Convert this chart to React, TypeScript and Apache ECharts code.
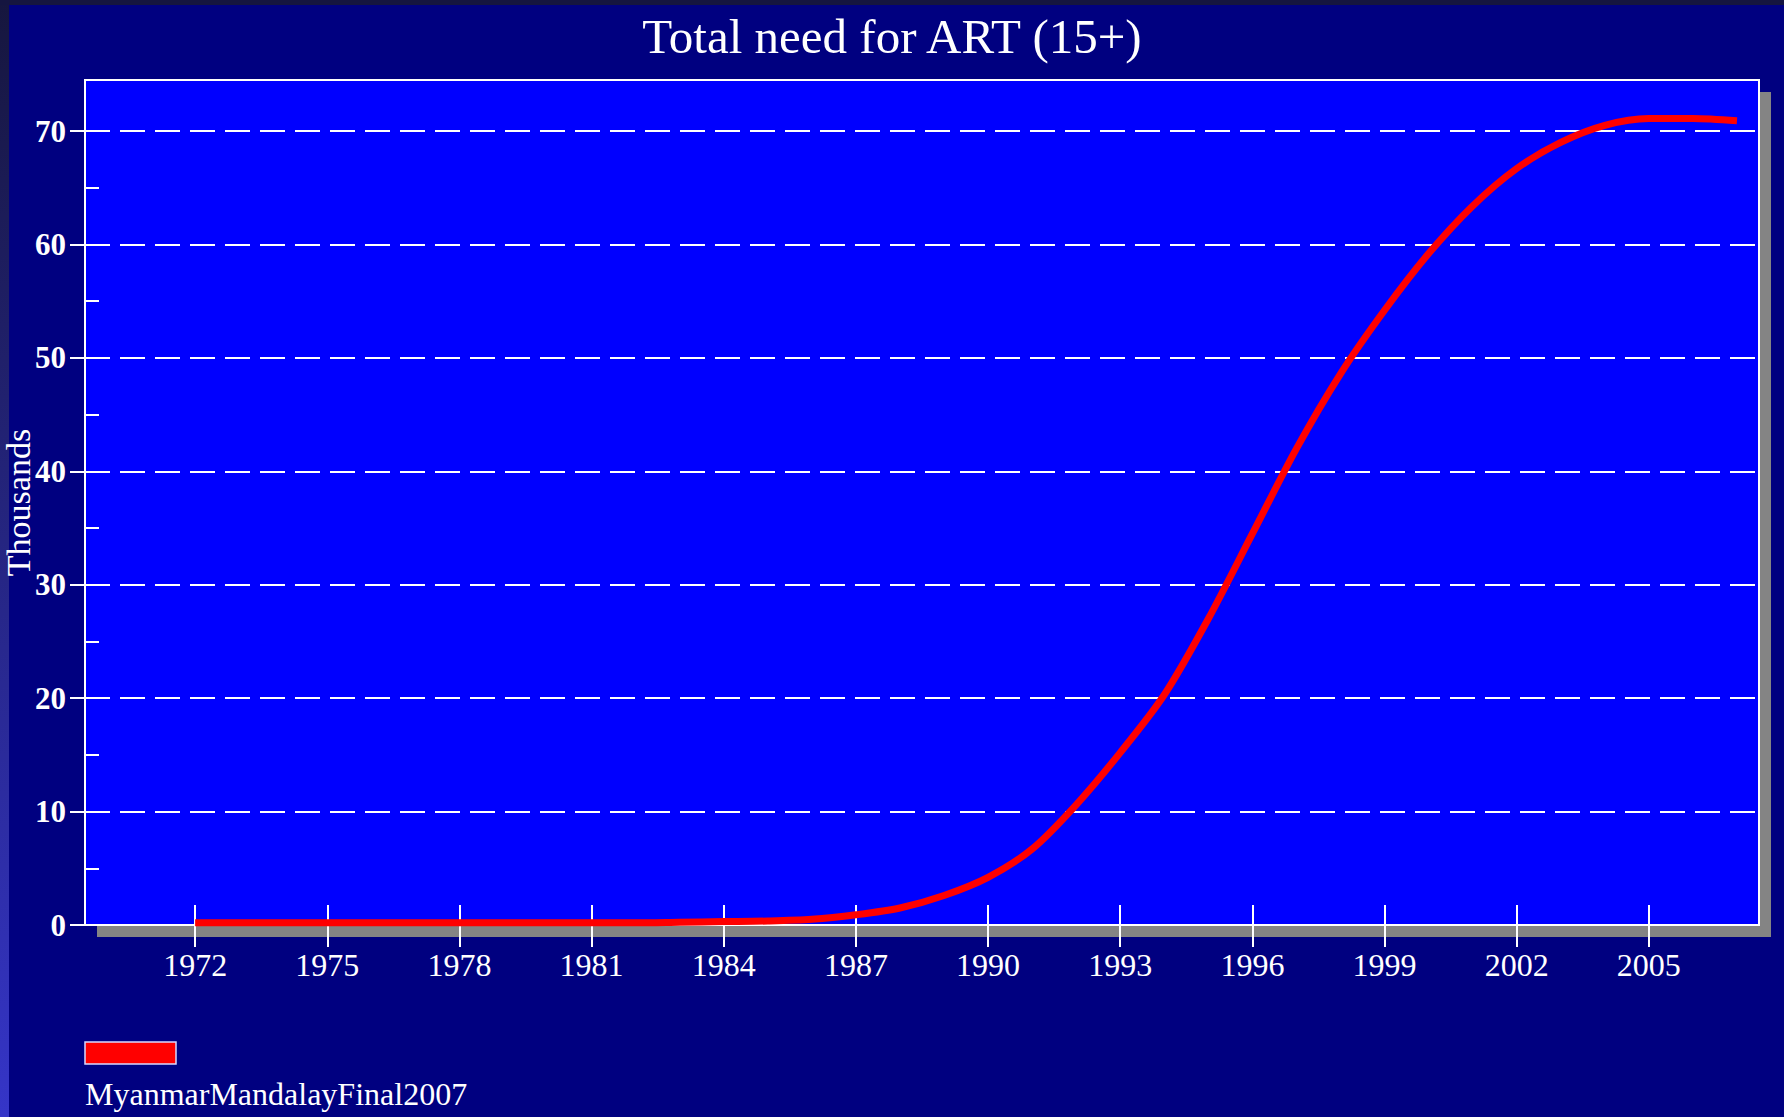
import React, { useEffect, useRef } from "react";
import * as echarts from "echarts";

const years = [1972, 1973, 1974, 1975, 1976, 1977, 1978, 1979, 1980, 1981, 1982, 1983, 1984, 1985, 1986, 1987, 1988, 1989, 1990, 1991, 1992, 1993, 1994, 1995, 1996, 1997, 1998, 1999, 2000, 2001, 2002, 2003, 2004, 2005, 2006, 2007];
const artNeed = [0.2, 0.2, 0.2, 0.2, 0.2, 0.2, 0.2, 0.2, 0.2, 0.2, 0.2, 0.25, 0.3, 0.35, 0.5, 0.9, 1.5, 2.6, 4.2, 6.7, 10.6, 15.2, 20.3, 27.0, 34.5, 42.0, 48.6, 54.2, 59.2, 63.4, 66.7, 69.0, 70.5, 71.1, 71.1, 70.9];
const xTickYears = [1972, 1975, 1978, 1981, 1984, 1987, 1990, 1993, 1996, 1999, 2002, 2005];
const yMajorTicks = [0, 10, 20, 30, 40, 50, 60, 70];
const yMinorTicks = [5, 15, 25, 35, 45, 55, 65];
const seriesName = "MyanmarMandalayFinal2007";
const titleText = "Total need for ART (15+)";
const yAxisName = "Thousands";

const W = 1784;
const H = 1117;
const G_LEFT = 85;
const G_TOP = 80;
const G_RIGHT = 25;
const G_BOTTOM = 192;
const FONT = "'Liberation Serif', 'Times New Roman', serif";

export default function App() {
  const ref = useRef<HTMLDivElement>(null);
  useEffect(() => {
    if (!ref.current) return;
    const chart = echarts.init(ref.current, null, { renderer: "svg" });
    const gw = W - G_LEFT - G_RIGHT;
    const gh = H - G_TOP - G_BOTTOM;
    const option: any = {
      animation: false,
      backgroundColor: "#000080",
      title: {
        text: titleText,
        left: "center",
        top: 7,
        textStyle: { color: "#ffffff", fontFamily: FONT, fontSize: 49, fontWeight: "normal" },
      },
      grid: {
        left: G_LEFT,
        top: G_TOP,
        right: G_RIGHT,
        bottom: G_BOTTOM,
        show: true,
        backgroundColor: "#0000ff",
        borderColor: "#ffffff",
        borderWidth: 2,
        containLabel: false,
        outerBoundsMode: "none",
      },
      graphic: [
        {
          type: "rect",
          z: -100,
          shape: { x: G_LEFT + 12, y: G_TOP + 12, width: gw, height: gh },
          style: { fill: "#848484" },
        },
        {
          type: "rect",
          z: -50,
          shape: { x: 0, y: 0, width: 9, height: H },
          style: {
            fill: new echarts.graphic.LinearGradient(0, 0, 0, 1, [
              { offset: 0, color: "#16163e" },
              { offset: 1, color: "#3535c8" },
            ]),
          },
        },
        {
          type: "rect",
          z: -50,
          shape: { x: 0, y: 0, width: W, height: 5 },
          style: { fill: "#151540" },
        },
        {
          type: "rect",
          shape: { x: 85, y: 1042, width: 91, height: 22 },
          style: { fill: "#ff0000", stroke: "#d8d8ff", lineWidth: 1.5 },
        },
        {
          type: "text",
          x: 85,
          y: 1094,
          style: {
            text: seriesName,
            fill: "#ffffff",
            font: `32px ${FONT}`,
            verticalAlign: "middle",
          },
        },
      ],
      xAxis: [
        {
          type: "value",
          min: 1969.5,
          max: 2007.5,
          position: "bottom",
          offset: -20,
          axisLine: { show: false },
          axisTick: {
            show: true,
            inside: false,
            length: 42,
            customValues: xTickYears,
            lineStyle: { color: "#ffffff", width: 2 },
          },
          axisLabel: {
            show: true,
            customValues: xTickYears,
            color: "#ffffff",
            fontFamily: FONT,
            fontSize: 32,
            margin: 44,
            formatter: (v: number) => String(v),
          },
          splitLine: { show: false },
        },
      ],
      yAxis: [
        {
          type: "value",
          min: 0,
          max: 74.5,
          interval: 10,
          position: "left",
          name: yAxisName,
          nameLocation: "middle",
          nameGap: 50,
          nameRotate: 90,
          nameMoveOverlap: false,
          nameTextStyle: { color: "#ffffff", fontFamily: FONT, fontSize: 34 },
          axisLine: { show: true, lineStyle: { color: "#ffffff", width: 2 } },
          axisTick: {
            show: true,
            inside: false,
            length: 15,
            customValues: yMajorTicks,
            lineStyle: { color: "#ffffff", width: 2 },
          },
          axisLabel: {
            show: true,
            customValues: yMajorTicks,
            color: "#ffffff",
            fontFamily: FONT,
            fontSize: 31,
            fontWeight: "bold",
            margin: 19,
          },
          splitLine: {
            show: true,
            lineStyle: { color: "#ffffff", width: 2, type: [25, 10] },
          },
        },
        {
          type: "value",
          min: 0,
          max: 74.5,
          position: "left",
          axisLine: { show: false },
          axisTick: {
            show: true,
            inside: true,
            length: 14,
            customValues: yMinorTicks,
            lineStyle: { color: "#ffffff", width: 2 },
          },
          axisLabel: { show: false },
          splitLine: { show: false },
        },
      ],
      series: [
        {
          name: seriesName,
          type: "line",
          xAxisIndex: 0,
          yAxisIndex: 0,
          data: years.map((y, i) => [y, artNeed[i]]),
          showSymbol: false,
          smooth: 0.3,
          lineStyle: { color: "#ff0000", width: 7 },
          itemStyle: { color: "#ff0000" },
          z: 3,
        },
      ],
    };
    chart.setOption(option);
    return () => chart.dispose();
  }, []);
  return (
    <div
      ref={ref}
      style={{ position: "fixed", left: 0, top: 0, width: W, height: H }}
    />
  );
}
